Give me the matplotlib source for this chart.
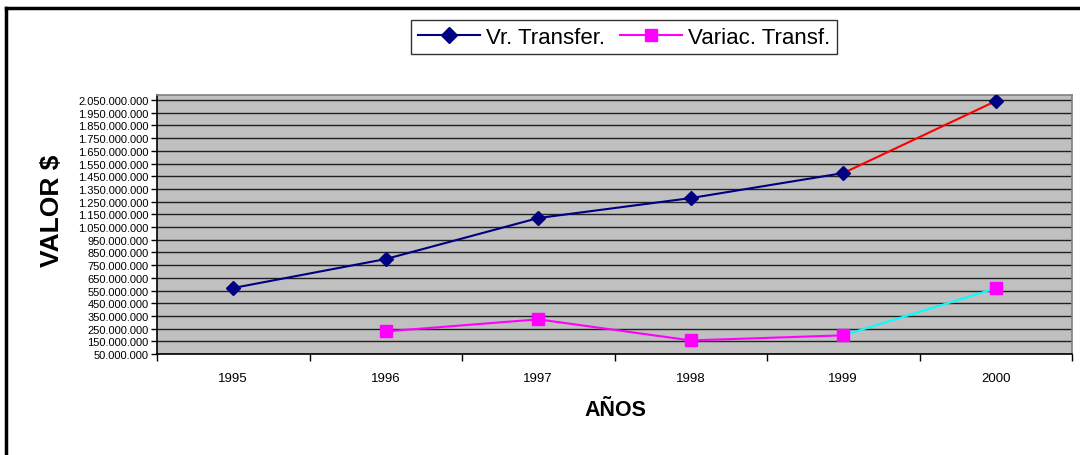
import matplotlib
matplotlib.use('Agg')
from matplotlib import pyplot as plt
from matplotlib.lines import Line2D
from matplotlib.ticker import FuncFormatter
import numpy as np

years = ['1995', '1996', '1997', '1998', '1999', '2000']
vr_transfer = [570e6, 798e6, 1121e6, 1278e6, 1475e6, 2042e6]
variac_transf = [None, 228e6, 323e6, 157e6, 197e6, 567e6]

x = np.arange(len(years))
v2_x = x[1:]
v2 = variac_transf[1:]

fig = plt.figure(figsize=(10.8, 4.56), dpi=100)
ax = fig.add_axes([157 / 1080, 1 - 355 / 456, (1072 - 157) / 1080, (355 - 96) / 456])
ax.set_facecolor('#c0c0c0')

# outer frame (left and top only show in the picture)
fig.add_artist(Line2D([6 / 1080, 6 / 1080], [0, 1 - 9 / 456], color='black', lw=2.5,
                      transform=fig.transFigure))
fig.add_artist(Line2D([6 / 1080, 1], [1 - 9 / 456, 1 - 9 / 456], color='black', lw=2.5,
                      transform=fig.transFigure))

# Vr. Transfer
ax.plot(x[:5], vr_transfer[:5], color='#000080', lw=1.5, zorder=3)
ax.plot(x[4:], vr_transfer[4:], color='red', lw=1.5, zorder=3)
ax.plot(x, vr_transfer, 'D', color='#000080', ms=7, zorder=4)

# Variac. Transf.
ax.plot(v2_x[:4], v2[:4], color='magenta', lw=1.5, zorder=3)
ax.plot(v2_x[3:], v2[3:], color='cyan', lw=1.5, zorder=3)
ax.plot(v2_x, v2, 's', color='magenta', ms=8, zorder=4)

ax.set_xlim(-0.5, 5.5)
ax.set_ylim(50e6, 2090e6)

yt = np.arange(50e6, 2051e6, 100e6)
ax.set_yticks(yt)
ax.yaxis.set_major_formatter(FuncFormatter(lambda v, p: '{:,.0f}'.format(v).replace(',', '.')))
ax.tick_params(axis='y', labelsize=8, length=4, width=1, pad=2)
ax.yaxis.grid(True, color='#202020', lw=1)
ax.set_axisbelow(True)

ax.set_xticks(np.arange(-0.5, 5.6, 1))
ax.set_xticklabels([])
ax.set_xticks(x, minor=True)
ax.set_xticklabels(years, minor=True)
ax.tick_params(axis='x', which='major', length=5, width=1)
ax.tick_params(axis='x', which='minor', length=0, labelsize=9.5, pad=13)

for s in ['left', 'bottom']:
    ax.spines[s].set_color('black')
    ax.spines[s].set_linewidth(1.2)
for s in ['top', 'right']:
    ax.spines[s].set_color('#808080')
    ax.spines[s].set_linewidth(1.2)

fig.text(615 / 1080, 1 - 411 / 456, 'AÑOS', ha='center', va='center',
         fontsize=15.5, fontweight='bold', family='Liberation Sans')
fig.text(52 / 1080, 1 - 211 / 456, 'VALOR $', ha='center', va='center', rotation=90,
         fontsize=19, fontweight='bold', family='Liberation Sans')

handles = [Line2D([], [], color='#000080', marker='D', ms=8, lw=1.5),
           Line2D([], [], color='magenta', marker='s', ms=9, lw=1.5)]
leg = fig.legend(handles, ['Vr. Transfer.', 'Variac. Transf.'], loc='center',
                 bbox_to_anchor=(624 / 1080, 1 - 38 / 456), ncol=2, fancybox=False,
                 frameon=True, edgecolor='black', handlelength=2.8,
                 handletextpad=0.25, columnspacing=0.7, borderpad=0.3,
                 prop={'family': 'Liberation Sans', 'size': 16})
leg.get_frame().set_linewidth(1)

for t in ax.get_yticklabels() + ax.get_xticklabels(minor=True):
    t.set_family('Liberation Sans')

plt.savefig('out.png', dpi=100)
